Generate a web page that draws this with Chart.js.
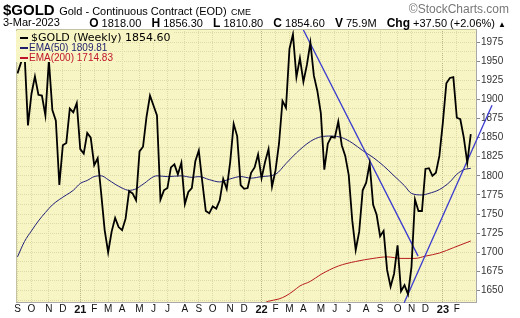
<!DOCTYPE html>
<html>
<head>
<meta charset="utf-8">
<script src="https://cdn.jsdelivr.net/npm/chart.js@4.4.0/dist/chart.umd.min.js"></script>
<style>
  body { margin: 0; background: #fff; }
  #wrap { position: relative; width: 520px; height: 318px; font-family: Arial, "Liberation Sans", sans-serif; color: #000; }
  canvas { position: absolute; left: 0; top: 0; }
  .hdr { position: absolute; white-space: nowrap; }
  .hdr b { font-size: 12px; margin-left: 4px; }
  .leg { position: absolute; left: 16px; background: #f7f5c3; white-space: nowrap; padding-right: 2px; }
  .dash { display: inline-block; width: 8px; height: 2px; vertical-align: middle; margin-left: 4px; }
</style>
</head>
<body>
<div id="wrap">
  <canvas id="goldChart" width="520" height="318"></canvas>

  <div class="hdr" style="left:3px;top:1px;line-height:16px;">
    <span style="font:bold 15px Arial;">$GOLD</span>
    <span style="font:11px Arial;">Gold - Continuous Contract (EOD)</span>
    <span style="font:9px Arial;">CME</span>
  </div>
  <div class="hdr" style="right:11px;top:2px;line-height:14px;font:12px Arial;color:#777;">&copy;StockCharts.com</div>
  <div class="hdr" style="left:3px;top:16px;line-height:12px;font:11px Arial;">3-Mar-2023</div>
  <div class="hdr" style="right:14px;top:16px;line-height:12px;font:11px Arial;">
    <b>O</b> 1818.00 &nbsp;<b>H</b> 1856.30 &nbsp;<b>L</b> 1810.80 &nbsp;<b>C</b> 1854.60 &nbsp;<b>V</b> 75.9M &nbsp;<b>Chg</b> +37.50 (+2.06%) <span style="font-size:8px;">&#9650;</span>
  </div>

  <div class="leg" style="top:31px;height:11px;line-height:11px;font:11px 'DejaVu Sans';">
    <span class="dash" style="background:#000;margin-right:3px;"></span><span id="leg-gold">$GOLD (Weekly)</span>
  </div>
  <div class="leg" style="top:42px;height:10px;line-height:10px;font:10px Arial;color:#1f1f6e;">
    <span class="dash" style="background:#1f1f6e;margin-right:1px;"></span><span id="leg-ema50">EMA(50)</span>
  </div>
  <div class="leg" style="top:52px;height:10px;line-height:10px;font:10px Arial;color:#c0142c;">
    <span class="dash" style="background:#c0142c;margin-right:1px;"></span><span id="leg-ema200">EMA(200)</span>
  </div>
</div>

<script>
// weekly closes, first bar Fri 4-Sep-2020, last bar 3-Mar-2023
const weekStart = "2020-09-04";

const goldClose = [
  1934, 1948, 1962, 1866, 1907, 1930, 1906, 1905, 1879, 1951, 1886, 1872, 1788, 1840, 1843, 1888, 1883, 1895,
  1835, 1829, 1856, 1850, 1814, 1823, 1777, 1729, 1700, 1727, 1745, 1733, 1729, 1744, 1780, 1777, 1768,
  1832, 1838, 1877, 1905, 1892, 1879, 1769, 1781, 1784, 1811, 1815, 1802, 1817, 1763, 1779, 1784, 1819,
  1833, 1792, 1754, 1751, 1760, 1757, 1768, 1796, 1783, 1818, 1868, 1852, 1788, 1783, 1784, 1804, 1811, 1828,
  1797, 1818, 1835, 1786, 1807, 1842, 1898, 1889, 1966, 1985, 1929, 1954, 1923, 1945, 1974, 1931, 1911,
  1882, 1808, 1842, 1851, 1850, 1871, 1840, 1826, 1801, 1742, 1703, 1727, 1781, 1791, 1816, 1762, 1749,
  1721, 1728, 1677, 1655, 1672, 1709, 1649, 1657, 1645, 1681, 1769, 1754, 1754, 1809, 1810, 1800, 1804, 1826,
  1870, 1921, 1928, 1929, 1876, 1874, 1850, 1817, 1854.60
];

// moving averages (week number from weekStart)
const ema50Weeks = [0, 2, 4, 6, 8, 10, 12, 14, 16, 18, 20, 22, 24, 26, 28, 30, 32, 34, 36, 40, 43, 47, 50, 52, 55, 58, 61, 64, 67, 70,
  74, 77, 80, 84, 87, 90, 93, 96, 99, 102, 105, 108, 111, 113, 116, 118, 121, 124, 126, 128, 130];
const ema50Values = [1694, 1714, 1728, 1741, 1752, 1762, 1769, 1775, 1781, 1790, 1794, 1799, 1800, 1795, 1789, 1784, 1781, 1783,
  1789, 1800, 1799, 1800, 1798, 1799, 1795, 1792, 1796, 1799, 1797, 1799, 1802, 1816, 1830, 1845, 1851, 1852, 1850, 1843, 1833,
  1824, 1813, 1800, 1787, 1777, 1775, 1777, 1782, 1792, 1802, 1808, 1809.81];

const ema200Weeks = [68, 70, 72, 75, 77, 79, 81, 84, 87, 92, 97, 102, 106, 110, 114, 117, 121, 125, 130];
const ema200Values = [1626, 1632, 1636, 1639, 1643, 1649, 1656, 1662, 1671, 1682, 1688, 1692, 1694, 1692, 1692, 1695, 1699, 1706, 1714.83];

// hand-drawn trend lines
const trendDownWeeks = [81.9, 114.9];
const trendDownValues = [1991.6, 1695];
const trendUpWeeks = [110.9, 136.1];
const trendUpValues = [1633.9, 1892.4];

// first weekly bar of each month and its axis label
const monthTickDates = ["2020-09-04", "2020-10-02", "2020-11-06", "2020-12-04", "2021-01-08", "2021-02-05", "2021-03-05",
  "2021-04-02", "2021-05-07", "2021-06-04", "2021-07-02", "2021-08-06", "2021-09-03", "2021-10-01", "2021-11-05",
  "2021-12-03", "2022-01-07", "2022-02-04", "2022-03-04", "2022-04-01", "2022-05-06", "2022-06-03", "2022-07-01",
  "2022-08-05", "2022-09-02", "2022-10-07", "2022-11-04", "2022-12-02", "2023-01-06", "2023-02-03"];
const monthTickLabels = ["S", "O", "N", "D", "21", "F", "M", "A", "M", "J", "J", "A", "S", "O", "N",
  "D", "22", "F", "M", "A", "M", "J", "J", "A", "S", "O", "N", "D", "23", "F"];

const plotColor = "#f7f5c3";

function toWeek(dateText) {
  return (Date.parse(dateText) - Date.parse(weekStart)) / (7 * 86400000);
}

function toPoints(weeks, values) {
  return weeks.map(function (w, i) {
    return { x: w, y: values[i] };
  });
}

const monthWeeks = monthTickDates.map(toWeek);

function labelForWeek(value) {
  const i = monthWeeks.findIndex(function (w) { return Math.abs(w - value) < 0.01; });
  return i >= 0 ? monthTickLabels[i] : "";
}

function isYearLabel(label) {
  return /^\d+$/.test(label);
}

document.getElementById("leg-gold").textContent = "$GOLD (Weekly) " + goldClose[goldClose.length - 1].toFixed(2);
document.getElementById("leg-ema50").textContent = "EMA(50) " + ema50Values[ema50Values.length - 1].toFixed(2);
document.getElementById("leg-ema200").textContent = "EMA(200) " + ema200Values[ema200Values.length - 1].toFixed(2);

const plotBackground = {
  id: "plotBackground",
  beforeDraw(chart) {
    const a = chart.chartArea;
    const ctx = chart.ctx;
    ctx.save();
    ctx.fillStyle = plotColor;
    ctx.fillRect(a.left, a.top, a.right - a.left, a.bottom - a.top);
    ctx.restore();
  },
  afterDraw(chart) {
    const a = chart.chartArea;
    const ctx = chart.ctx;
    ctx.save();
    ctx.strokeStyle = "#c4c2a4";
    ctx.lineWidth = 1;
    ctx.beginPath();
    ctx.moveTo(a.left + 0.5, a.bottom);
    ctx.lineTo(a.left + 0.5, a.top + 0.5);
    ctx.lineTo(a.right, a.top + 0.5);
    ctx.stroke();
    ctx.restore();
  }
};

new Chart(document.getElementById("goldChart").getContext("2d"), {
  type: "line",
  data: {
    datasets: [
      {
        label: "$GOLD (Weekly)",
        data: goldClose.map(function (v, i) { return { x: i, y: v }; }),
        borderColor: "#000",
        borderWidth: 1.8,
        tension: 0
      },
      {
        label: "Trend down",
        data: toPoints(trendDownWeeks, trendDownValues),
        borderColor: "#3a3ad0",
        borderWidth: 1.3
      },
      {
        label: "Trend up",
        data: toPoints(trendUpWeeks, trendUpValues),
        borderColor: "#3a3ad0",
        borderWidth: 1.3,
        clip: false
      },
      {
        label: "EMA(50)",
        data: toPoints(ema50Weeks, ema50Values),
        borderColor: "#1f1f7a",
        borderWidth: 1,
        cubicInterpolationMode: "monotone"
      },
      {
        label: "EMA(200)",
        data: toPoints(ema200Weeks, ema200Values),
        borderColor: "#b81c1c",
        borderWidth: 1,
        cubicInterpolationMode: "monotone"
      }
    ]
  },
  options: {
    responsive: false,
    animation: false,
    devicePixelRatio: 1,
    layout: { padding: { left: 16, top: 29, right: 0, bottom: 0 } },
    elements: { point: { radius: 0 } },
    plugins: {
      legend: { display: false },
      tooltip: { enabled: false }
    },
    scales: {
      x: {
        type: "linear",
        min: -0.43,
        max: 131.5,
        afterBuildTicks: function (scale) {
          scale.ticks = monthWeeks.map(function (w) { return { value: w }; });
        },
        afterFit: function (scale) {
          scale.height = 16;
        },
        ticks: {
          autoSkip: false,
          maxRotation: 0,
          padding: 1,
          color: "#111",
          callback: function (value) {
            return labelForWeek(value);
          },
          font: function (ctx) {
            const label = ctx.tick ? labelForWeek(ctx.tick.value) : "";
            if (isYearLabel(label)) {
              return { family: "Arial", size: 11, weight: "bold" };
            }
            return { family: "Arial", size: 10 };
          }
        },
        grid: {
          drawTicks: false,
          color: function (ctx) {
            const label = ctx.tick ? labelForWeek(ctx.tick.value) : "";
            return isYearLabel(label) ? "#b9b68a" : "#dedba9";
          }
        },
        border: { display: true, color: "#a8a8a8", dash: [1, 1] }
      },
      y: {
        position: "right",
        min: 1635,
        max: 1992,
        afterFit: function (scale) {
          scale.width = 44;
        },
        ticks: {
          stepSize: 12.5,
          includeBounds: false,
          autoSkip: false,
          padding: 1,
          color: "#333",
          font: { family: "Arial", size: 10 },
          callback: function (value) {
            return value % 25 === 0 ? String(value) : "";
          }
        },
        grid: {
          tickLength: 4,
          color: "#dedba9",
          tickColor: function (ctx) {
            return ctx.tick && ctx.tick.value % 25 === 0 ? "#888" : "rgba(0,0,0,0)";
          }
        },
        border: { display: true, color: "#a8a8a8", dash: [1, 1] }
      }
    }
  },
  plugins: [plotBackground]
});
</script>
</body>
</html>
